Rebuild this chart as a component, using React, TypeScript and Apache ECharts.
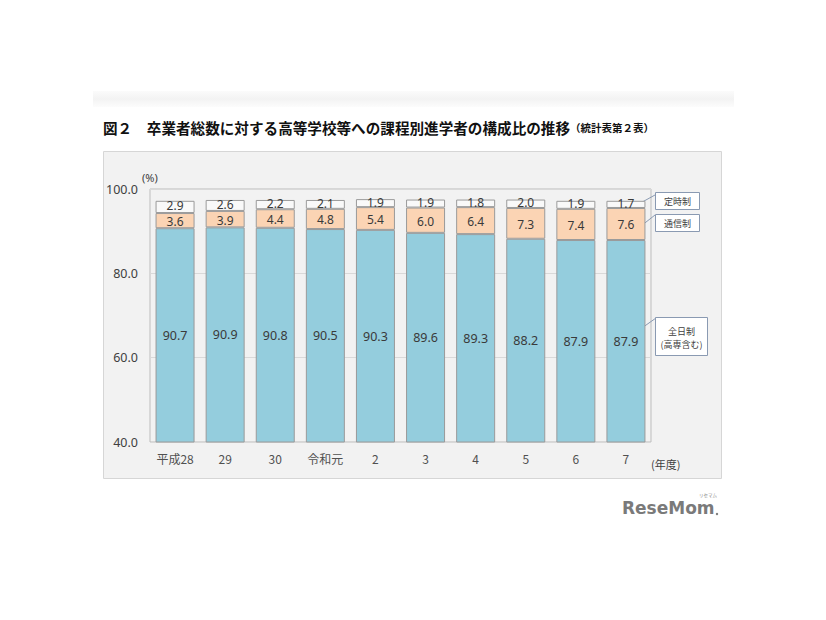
import React, { useEffect, useRef } from "react";
import * as echarts from "echarts";

const categories = ["平成28", "29", "30", "令和元", "2", "3", "4", "5", "6", "7"];
const zennichi = [90.7, 90.9, 90.8, 90.5, 90.3, 89.6, 89.3, 88.2, 87.9, 87.9];
const tsushin = [3.6, 3.9, 4.4, 4.8, 5.4, 6.0, 6.4, 7.3, 7.4, 7.6];
const teiji = [2.9, 2.6, 2.2, 2.1, 1.9, 1.9, 1.8, 2.0, 1.9, 1.7];
const yTicks = [40, 60, 80, 100];

const seriesNames = ["全日制", "通信制", "定時制"];
const FONT = "'Noto Sans CJK JP', 'Noto Sans', sans-serif";
const NUMFONT = "'Noto Sans', 'Noto Sans CJK JP', sans-serif";

export default function App() {
  const ref = useRef<HTMLDivElement>(null);
  useEffect(() => {
    if (!ref.current) return;
    const chart = echarts.init(ref.current, null, { renderer: "svg" });
    const label = {
      show: true,
      position: "inside",
      color: "#3a3a3a",
      fontSize: 12,
      lineHeight: 10,
      fontFamily: NUMFONT,
      formatter: (p: any) => Number(p.value).toFixed(1),
    };
    const border = { borderColor: "#9a9a9a", borderWidth: 1 };
    chart.setOption({
      animation: false,
      backgroundColor: "#ffffff",
      textStyle: { fontFamily: FONT },
      grid: {
        left: 150,
        top: 189,
        width: 501,
        height: 253,
        show: true,
        borderColor: "#bdbdbd",
        borderWidth: 1,
        backgroundColor: "transparent",
      },
      xAxis: {
        type: "category",
        data: categories,
        axisLine: { show: false },
        axisTick: { show: false },
        axisLabel: { color: "#505050", fontSize: 12, margin: 10, fontFamily: FONT },
      },
      yAxis: {
        type: "value",
        min: yTicks[0],
        max: yTicks[yTicks.length - 1],
        interval: 20,
        axisLine: { show: false },
        axisTick: { show: false },
        axisLabel: {
          color: "#404040",
          fontSize: 12.5,
          margin: 12,
          fontFamily: NUMFONT,
          formatter: (v: number) => v.toFixed(1),
        },
        splitLine: { lineStyle: { color: "#d9d9d9", width: 1 } },
      },
      series: [
        {
          name: seriesNames[0],
          type: "bar",
          stack: "total",
          data: zennichi,
          barWidth: 39,
          itemStyle: { color: "#94cddd", ...border },
          label: { ...label, fontSize: 12.5 },
        },
        {
          name: seriesNames[1],
          type: "bar",
          stack: "total",
          data: tsushin,
          barWidth: 39,
          itemStyle: { color: "#fbd4b4", ...border },
          label: { ...label, offset: [0, 1] },
        },
        {
          name: seriesNames[2],
          type: "bar",
          stack: "total",
          data: teiji,
          barWidth: 39,
          itemStyle: { color: "#f9f9f9", ...border },
          label: { ...label, offset: [0, -1] },
        },
      ],
    });

    const last = categories.length - 1;
    const pTeiji = chart.convertToPixel({ gridIndex: 0 } as any, [
      last,
      zennichi[last] + tsushin[last] + teiji[last] / 2,
    ]) as number[];
    const pTsushin = chart.convertToPixel({ gridIndex: 0 } as any, [
      last,
      zennichi[last] + tsushin[last] * 0.46,
    ]) as number[];
    const pZen = chart.convertToPixel({ gridIndex: 0 } as any, [
      last,
      66.2,
    ]) as number[];

    const lineStyle = { stroke: "#8a9ab2", lineWidth: 1 };
    const boxStyle = { fill: "#ffffff", stroke: "#8a9ab2", lineWidth: 1 };
    const boxText = { fill: "#404040", fontSize: 9, fontFamily: FONT, align: "center", verticalAlign: "middle" };

    chart.setOption({
      graphic: [
        {
          type: "rect",
          z: -10,
          silent: true,
          shape: { x: 93, y: 91, width: 641, height: 16 },
          style: {
            fill: new echarts.graphic.LinearGradient(0, 0, 0, 1, [
              { offset: 0, color: "#fbfbfb" },
              { offset: 0.5, color: "#f3f3f3" },
              { offset: 1, color: "#fcfcfc" },
            ]),
          },
        },
        {
          type: "rect",
          z: -10,
          silent: true,
          shape: { x: 103.5, y: 151.5, width: 618, height: 327 },
          style: { fill: "#f2f2f2", stroke: "#d6d6d6", lineWidth: 1 },
        },
        {
          type: "text",
          left: 103,
          top: 120,
          style: {
            text: "{a|図２　卒業者総数に対する高等学校等への課程別進学者の構成比の推移}{b|（統計表第２表）}",
            rich: {
              a: { fontSize: 14.6, fontWeight: "bold", fill: "#111", fontFamily: FONT, verticalAlign: "middle", height: 18 },
              b: { fontSize: 10.5, fontWeight: "bold", fill: "#111", fontFamily: FONT, verticalAlign: "middle", height: 18 },
            },
          },
        },
        {
          type: "text",
          x: 142,
          y: 177,
          style: { text: "(%)", fill: "#404040", fontSize: 11, fontFamily: NUMFONT, verticalAlign: "middle" },
        },
        {
          type: "text",
          x: 651,
          y: 464,
          style: { text: "(年度)", fill: "#404040", fontSize: 11, fontFamily: FONT, verticalAlign: "middle" },
        },
        // leader lines
        { type: "line", shape: { x1: 655, y1: 195, x2: pTeiji[0] + 12, y2: pTeiji[1] }, style: lineStyle },
        { type: "line", shape: { x1: 655, y1: 215, x2: pTsushin[0] + 16, y2: pTsushin[1] }, style: lineStyle },
        { type: "line", shape: { x1: 656, y1: 318, x2: pZen[0] + 11, y2: pZen[1] }, style: lineStyle },
        // boxes
        { type: "rect", shape: { x: 655.5, y: 192.5, width: 44, height: 17 }, style: boxStyle },
        { type: "text", x: 677.5, y: 201, style: { ...boxText, text: "定時制" } },
        { type: "rect", shape: { x: 655.5, y: 214.5, width: 44, height: 17 }, style: boxStyle },
        { type: "text", x: 677.5, y: 223, style: { ...boxText, text: "通信制" } },
        { type: "rect", shape: { x: 655.5, y: 317.5, width: 52, height: 38 }, style: boxStyle },
        { type: "text", x: 681.5, y: 331, style: { ...boxText, text: "全日制" } },
        { type: "text", x: 681.5, y: 344, style: { ...boxText, text: "(高専含む)" } },
        // logo
        {
          type: "text",
          x: 622,
          y: 508,
          style: {
            text: "ReseMom",
            fill: "#7a7a7a",
            fontSize: 17,
            fontWeight: "bold",
            fontFamily: "'DejaVu Sans', sans-serif",
            verticalAlign: "middle",
          },
        },
        {
          type: "circle",
          shape: { cx: 717, cy: 514, r: 1.2 },
          style: { fill: "#7a7a7a" },
        },
        {
          type: "text",
          x: 699,
          y: 495,
          style: { text: "リセマム", fill: "#8a8a8a", fontSize: 4.5, lineHeight: 5, fontFamily: FONT, verticalAlign: "middle" },
        },
      ],
    });

    return () => chart.dispose();
  }, []);

  return (
    <div
      ref={ref}
      style={{ position: "fixed", left: 0, top: 0, width: 826, height: 620 }}
    />
  );
}
